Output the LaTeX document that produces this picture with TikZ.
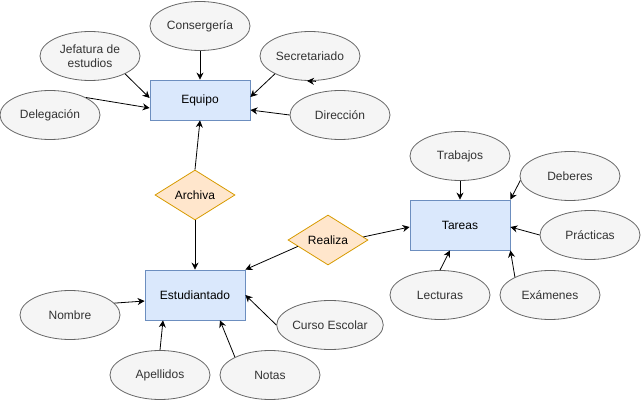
\documentclass[tikz,border=0pt]{standalone}
\usepackage{fontspec}
\setmainfont{Liberation Sans}
\usetikzlibrary{shapes.geometric,arrows.meta,calc}
\definecolor{ellfill}{HTML}{F5F5F5}
\definecolor{elldraw}{HTML}{666666}
\definecolor{elltext}{HTML}{333333}
\definecolor{recfill}{HTML}{DAE8FC}
\definecolor{recdraw}{HTML}{6C8EBF}
\definecolor{diafill}{HTML}{FFE6CC}
\definecolor{diadraw}{HTML}{D79B00}
\begin{document}
\begin{tikzpicture}[x=1pt,y=-1pt,
  every node/.style={font=\fontsize{12}{14}\selectfont},
  attr/.style={ellipse,draw=elldraw,fill=ellfill,text=elltext,minimum width=100pt,minimum height=49pt,inner sep=0pt,align=center,line width=0.8pt},
  ent/.style={rectangle,draw=recdraw,fill=recfill,minimum width=100pt,minimum height=50pt,inner sep=0pt,line width=0.8pt},
  rel/.style={diamond,draw=diadraw,fill=diafill,minimum width=80pt,minimum height=50pt,inner sep=0pt,line width=0.8pt},
  arr/.style={-{Stealth[length=7pt,width=7pt]},line width=0.8pt}]
\useasboundingbox (0,0) rectangle (641,401);
% entities
\node[ent,minimum height=40pt] (equipo) at (200,100) {Equipo};
\node[ent] (estud) at (195,295) {Estudiantado};
\node[ent] (tareas) at (460,225) {Tareas};
% relations
\node[rel] (archiva) at (195,195) {Archiva};
\node[rel] (realiza) at (328,240) {Realiza};
% attributes of Equipo
\node[attr] (conser) at (200,26) {Consergería};
\node[attr] (jefe) at (90,56) {Jefatura de\\estudios};
\node[attr] (secre) at (310,56) {Secretariado};
\node[attr] (deleg) at (50,115) {Delegación};
\node[attr] (direc) at (340,115) {Dirección};
% attributes of Tareas
\node[attr] (trab) at (460,156) {Trabajos};
\node[attr] (deber) at (570,176) {Deberes};
\node[attr] (pract) at (590,235) {Prácticas};
\node[attr] (lect) at (440,295) {Lecturas};
\node[attr] (exam) at (550,295) {Exámenes};
% attributes of Estudiantado
\node[attr] (nombre) at (70,315) {Nombre};
\node[attr] (apell) at (160,375) {Apellidos};
\node[attr] (notas) at (270,375) {Notas};
\node[attr] (curso) at (330,325) {Curso Escolar};
% connectors to Equipo
\draw[arr] (conser.south) -- (equipo.north);
\draw[arr] (jefe.-27) -- ($(equipo.west)+(0,-2)$);
\draw[arr] (deleg.26) -- ($(equipo.west)+(0,8)$);
\draw[arr] (secre.207) -- ($(equipo.east)+(0,-3)$);
\draw[arr] ($(secre.south)+(6,0.5)$) -- ($(secre.south)+(-3,0)$);
\draw[arr] (direc.west) -- ($(equipo.east)+(0,10)$);
% relations
\draw[arr] (archiva.north) -- (equipo.south);
\draw[arr] (archiva.south) -- (estud.north);
\draw[arr] (realiza.192) -- (estud.north east);
\draw[arr] (realiza.5) -- ($(tareas.west)+(0,2)$);
% connectors to Tareas
\draw[arr] (trab.south) -- (tareas.north);
\draw[arr] (deber.185) -- (tareas.north east);
\draw[arr] (pract.west) -- ($(tareas.east)+(0,2)$);
\draw[arr] (lect.north) -- ($(tareas.south)+(-10,0)$);
\draw[arr] (exam.153) -- (tareas.south east);
% connectors to Estudiantado
\draw[arr] (nombre.15) -- ($(estud.west)+(0,6)$);
\draw[arr] (apell.north) -- ($(estud.south)+(-32,0)$);
\draw[arr] (notas.153) -- ($(estud.south)+(25,0)$);
\draw[arr] (curso.west) -- (estud.east);
\end{tikzpicture}
\end{document}
